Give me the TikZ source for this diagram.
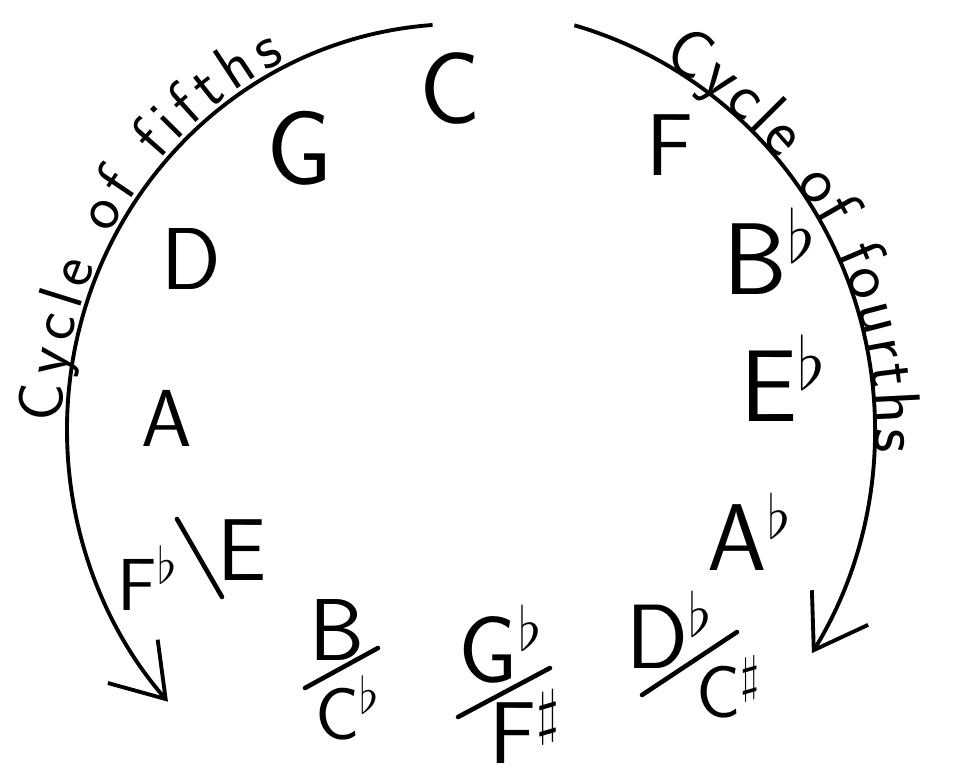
\documentclass[tikz,border=0pt]{standalone}
\usepackage{tikz}
\usetikzlibrary{arrows.meta,decorations.text}

\begin{document}
\begin{tikzpicture}[line width=1.1pt, font=\sffamily,
    note/.style={inner sep=0pt, font=\sffamily\fontsize{#1}{#1}\selectfont},
    note/.default=26,
    cycle arrow/.style={-{Straight Barb[length=5mm,width=6.6mm]}},
    slash/.style={line width=1.3pt, line cap=round}]

  \useasboundingbox (0,0) rectangle (9.53,7.76);
  \coordinate (ctr) at (4.60,3.46);

  % ---------- the two arcs ----------
  \coordinate (fifths start) at ([shift={(94:3.93 and 4.06)}]ctr);
  \draw[cycle arrow] (fifths start)
        arc[start angle=94, end angle=222, x radius=3.93, y radius=4.06];
  \coordinate (fourths start) at ([shift={(74:4.15 and 4.21)}]ctr);
  \draw[cycle arrow] (fourths start)
        arc[start angle=74, end angle=-32, x radius=4.15, y radius=4.21];

  % ---------- text along the arcs ----------
  \coordinate (fifths text) at ([shift={(179:3.93 and 4.06)}]ctr);
  \path[decorate, decoration={text along path, text align=fit to path, raise=0.5mm,
        text={|\sffamily\fontsize{18}{20}\selectfont|Cycle of fifths}}]
        (fifths text) arc[start angle=179, end angle=116, x radius=3.93, y radius=4.06];
  \coordinate (fourths text) at ([shift={(61:4.15 and 4.21)}]ctr);
  \path[decorate, decoration={text along path, text align=fit to path,
        text={|\sffamily\fontsize{19}{21}\selectfont|Cycle of fourths}}]
        (fourths text) arc[start angle=61, end angle=-3, x radius=4.15, y radius=4.21];

  % ---------- single keys ----------
  \node[note=29] (c)     at (4.50,6.88) {C};
  \node[note=30] (g)     at (3.00,6.28) {G};
  \node[note=25] (d)     at (1.91,5.17) {D};
  \node[note=23] (a)     at (1.67,3.58) {A};
  \node[note=25] (f)     at (6.70,6.31) {F};
  \node[note=29] (bflat) at (7.70,5.25) {B$^\flat$};
  \node[note=29] (eflat) at (7.84,3.98) {E$^\flat$};
  \node[note=27] (aflat) at (7.50,2.44) {A$^\flat$};

  % ---------- enharmonic pairs ----------
  \node[note=21] (fflat) at (1.48,1.98) {F$^\flat$};
  \node[note=25] (e)     at (2.42,2.26) {E};
  \draw[slash] (1.77,2.57) -- (2.22,1.79);

  \node[note=25] (b)     at (3.37,1.46) {B};
  \node[note=21] (cflat) at (3.48,0.68) {C$^\flat$};
  \draw[slash] (3.05,0.88) -- (3.78,1.28);

  \node[note=27] (gflat) at (5.01,1.32) {G$^\flat$};
  \node[note=25] (fsharp) at (5.25,0.49) {F$^\sharp$};
  \draw[slash] (4.58,0.59) -- (5.50,1.08);

  \node[note=26] (dflat) at (6.70,1.46) {D$^\flat$};
  \node[note=21] (csharp) at (7.29,0.89) {C$^\sharp$};
  \draw[slash] (6.42,0.81) -- (7.37,1.44);

\end{tikzpicture}
\end{document}
